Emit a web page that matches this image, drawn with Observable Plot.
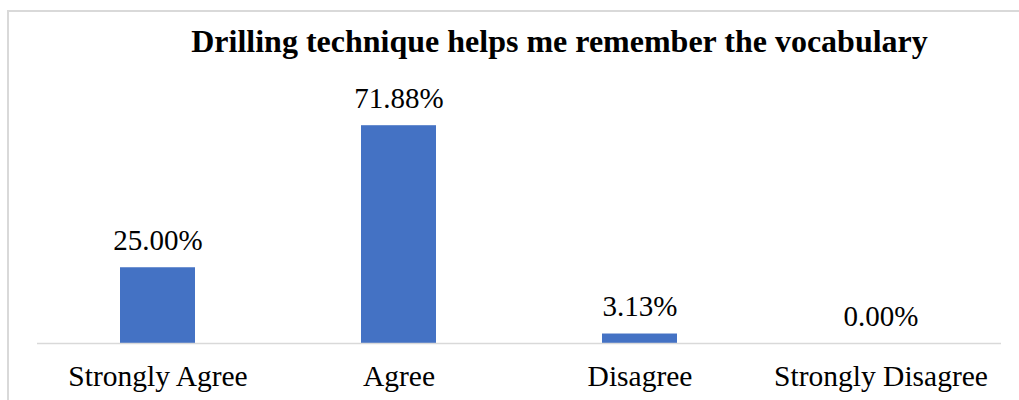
<!DOCTYPE html>
<html>
<head>
<meta charset="utf-8">
<script src="https://cdn.jsdelivr.net/npm/d3@7"></script>
<script src="https://cdn.jsdelivr.net/npm/@observablehq/plot@0.6"></script>
<style>
  html, body { margin: 0; padding: 0; background: #fff; overflow: hidden; width: 1019px; height: 400px; }
  #frame { position: absolute; left: 7px; top: 10px; width: 1100px; height: 500px; border: 2px solid #d9d9d9; box-sizing: border-box; }
  #chart { position: absolute; left: 0; top: 0; }
</style>
</head>
<body>
<div id="frame"></div>
<div id="chart"></div>
<script>
const title = "Drilling technique helps me remember the vocabulary";
const categories = ["Strongly Agree", "Agree", "Disagree", "Strongly Disagree"];
const values = [25.00, 71.88, 3.13, 0.00];
const labels = ["25.00%", "71.88%", "3.13%", "0.00%"];

const data = categories.map((c, i) => ({category: c, value: values[i], label: labels[i]}));

const serif = "'Liberation Serif', 'Times New Roman', serif";

const plot = Plot.plot({
  width: 1019,
  height: 400,
  marginLeft: 37,
  marginRight: 18,
  marginTop: 60,
  marginBottom: 57,
  style: {fontFamily: serif, background: "transparent", color: "#000"},
  x: {domain: categories, padding: 0, label: null},
  y: {domain: [0, 80], range: [343, 343 - 80 * 3.03], axis: null},
  marks: [
    Plot.barY(data, {x: "category", y: "value", fill: "#4472c4", insetLeft: 83, insetRight: 83}),
    Plot.ruleY([0], {stroke: "#d9d9d9", strokeWidth: 1.5}),
    Plot.text(data, {x: "category", y: "value", text: "label", lineAnchor: "bottom", dy: -18, fontSize: 29, fill: "#000"}),
    Plot.axisX({tickSize: 0, tickPadding: 22, fontSize: 29.5, label: null, fill: "#000"}),
    Plot.text([title], {frameAnchor: "top", dx: 40, dy: -9, lineAnchor: "bottom", fontSize: 32, fontWeight: "bold", fill: "#000"})
  ]
});
document.getElementById("chart").appendChild(plot);
</script>
</body>
</html>
